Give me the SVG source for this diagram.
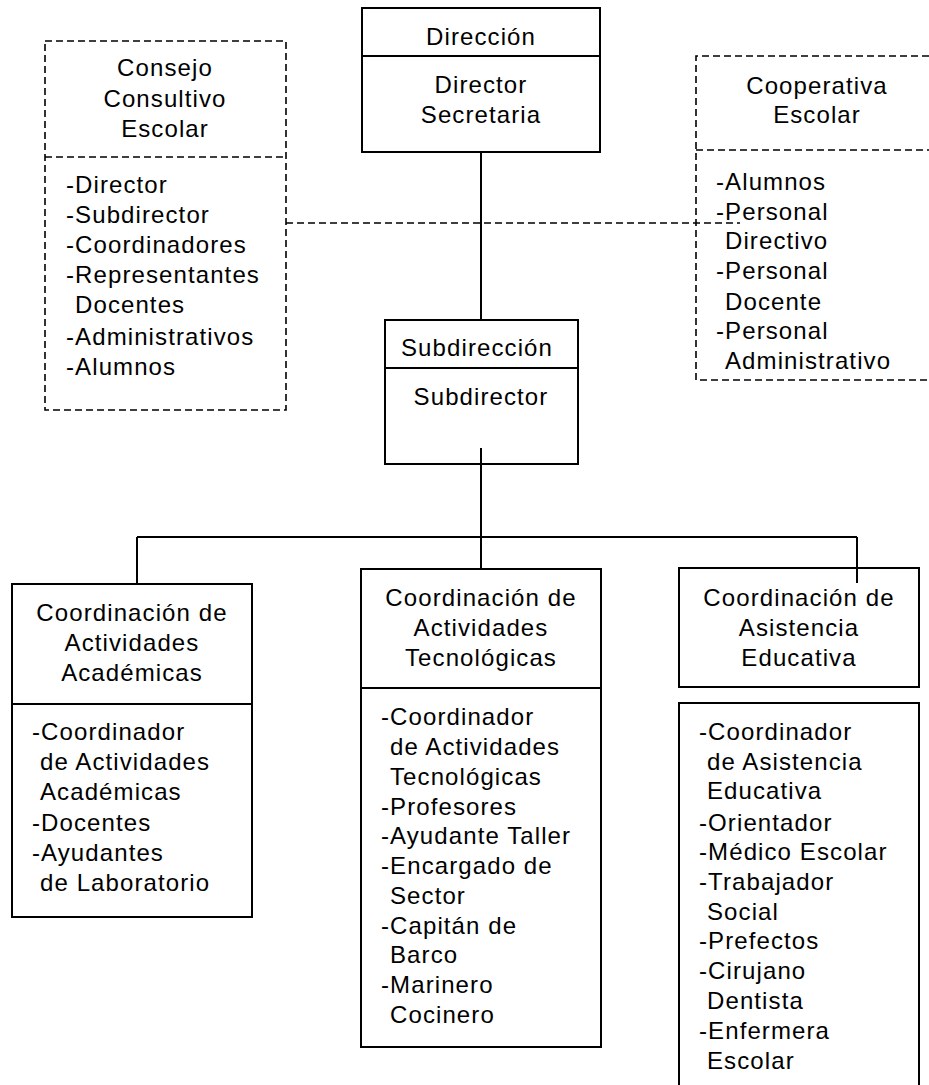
<svg xmlns="http://www.w3.org/2000/svg" width="929" height="1085" viewBox="0 0 929 1085">
<style>
.s{fill:none;stroke:#000;stroke-width:2}
.d{fill:none;stroke:#000;stroke-width:1.6;stroke-dasharray:7 4}
text{font-family:"Liberation Sans",Arial,sans-serif;font-size:24px;letter-spacing:1.1px;fill:#000}
.c{text-anchor:middle}
</style>
<rect width="929" height="1085" fill="#fff"/>
<g id="connectors">
<line class="s" x1="481" y1="152" x2="481" y2="320"/>
<line class="d" x1="286" y1="223" x2="740" y2="223"/>
<line class="s" x1="481" y1="448" x2="481" y2="537"/>
<line class="s" x1="137" y1="537" x2="857" y2="537"/>
<line class="s" x1="137" y1="537" x2="137" y2="584"/>
<line class="s" x1="481" y1="537" x2="481" y2="569"/>
<line class="s" x1="857" y1="537" x2="857" y2="583"/>
</g>
<g id="direccion">
<rect class="s" x="362" y="8" width="238" height="144"/>
<line class="s" x1="362" y1="56" x2="600" y2="56"/>
<text class="c" x="481" y="45">Dirección</text>
<text class="c" x="481" y="93">Director</text>
<text class="c" x="481" y="123">Secretaria</text>
</g>
<g id="consejo">
<path class="d" d="M45 41H286V410H45Z"/>
<line class="d" x1="45" y1="157" x2="286" y2="157"/>
<text class="c" x="165" y="76">Consejo</text>
<text class="c" x="165" y="107">Consultivo</text>
<text class="c" x="165" y="137">Escolar</text>
<text x="66" y="193">-Director</text>
<text x="66" y="223">-Subdirector</text>
<text x="66" y="253">-Coordinadores</text>
<text x="66" y="283">-Representantes</text>
<text x="75" y="313">Docentes</text>
<text x="66" y="345">-Administrativos</text>
<text x="66" y="375">-Alumnos</text>
</g>
<g id="cooperativa">
<path class="d" d="M929 56H696V380H929"/>
<line class="d" x1="696" y1="150" x2="929" y2="150"/>
<text class="c" x="817" y="94">Cooperativa</text>
<text class="c" x="817" y="123">Escolar</text>
<text x="716" y="190">-Alumnos</text>
<text x="716" y="220">-Personal</text>
<text x="725" y="249">Directivo</text>
<text x="716" y="279">-Personal</text>
<text x="725" y="310">Docente</text>
<text x="716" y="339">-Personal</text>
<text x="725" y="369">Administrativo</text>
</g>
<g id="subdireccion">
<rect class="s" x="385" y="320" width="193" height="144"/>
<line class="s" x1="385" y1="368" x2="578" y2="368"/>
<text class="c" x="477" y="356">Subdirección</text>
<text class="c" x="481" y="405">Subdirector</text>
</g>
<g id="coord-academicas">
<rect class="s" x="12" y="584" width="240" height="333"/>
<line class="s" x1="12" y1="704" x2="252" y2="704"/>
<text class="c" x="132" y="621">Coordinación de</text>
<text class="c" x="132" y="651">Actividades</text>
<text class="c" x="132" y="681">Académicas</text>
<text x="32" y="740">-Coordinador</text>
<text x="40" y="770">de Actividades</text>
<text x="40" y="800">Académicas</text>
<text x="32" y="831">-Docentes</text>
<text x="32" y="861">-Ayudantes</text>
<text x="40" y="891">de Laboratorio</text>
</g>
<g id="coord-tecnologicas">
<rect class="s" x="361" y="569" width="240" height="478"/>
<line class="s" x1="361" y1="688" x2="601" y2="688"/>
<text class="c" x="481" y="606">Coordinación de</text>
<text class="c" x="481" y="636">Actividades</text>
<text class="c" x="481" y="666">Tecnológicas</text>
<text x="381" y="725">-Coordinador</text>
<text x="390" y="755">de Actividades</text>
<text x="390" y="785">Tecnológicas</text>
<text x="381" y="815">-Profesores</text>
<text x="381" y="844">-Ayudante Taller</text>
<text x="381" y="874">-Encargado de</text>
<text x="390" y="904">Sector</text>
<text x="381" y="934">-Capitán de</text>
<text x="390" y="963">Barco</text>
<text x="381" y="993">-Marinero</text>
<text x="390" y="1023">Cocinero</text>
</g>
<g id="coord-asistencia">
<rect class="s" x="679" y="568" width="240" height="119"/>
<text class="c" x="799" y="606">Coordinación de</text>
<text class="c" x="799" y="636">Asistencia</text>
<text class="c" x="799" y="666">Educativa</text>
</g>
<g id="asistencia-lista">
<path class="s" d="M679 1090V703H919V1090"/>
<text x="699" y="740">-Coordinador</text>
<text x="707" y="770">de Asistencia</text>
<text x="707" y="799">Educativa</text>
<text x="699" y="831">-Orientador</text>
<text x="699" y="860">-Médico Escolar</text>
<text x="699" y="890">-Trabajador</text>
<text x="707" y="920">Social</text>
<text x="699" y="949">-Prefectos</text>
<text x="699" y="979">-Cirujano</text>
<text x="707" y="1009">Dentista</text>
<text x="699" y="1039">-Enfermera</text>
<text x="707" y="1069">Escolar</text>
</g>
</svg>
